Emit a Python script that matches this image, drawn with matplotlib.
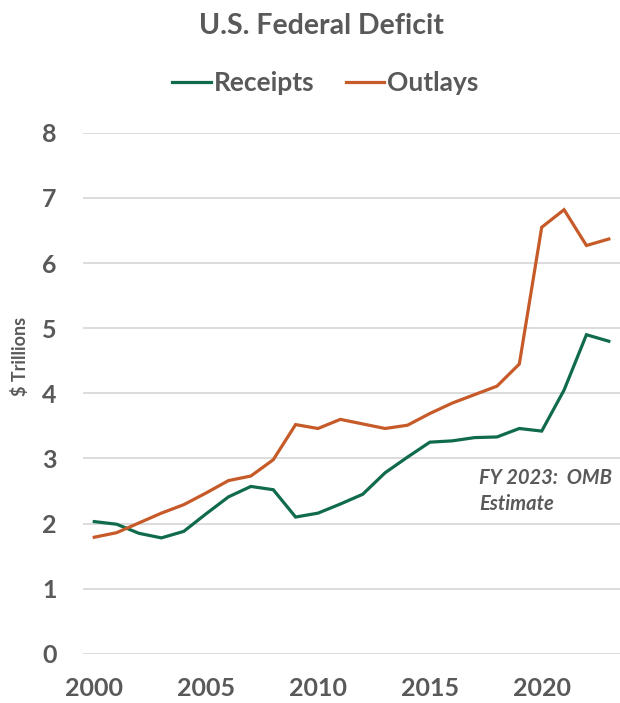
import matplotlib.pyplot as plt

# federal receipts and outlays, $ trillions (2023 = OMB estimate)
years = list(range(2000, 2024))
receipts = [2.03, 1.99, 1.85, 1.78, 1.88, 2.15, 2.41, 2.57, 2.52, 2.10,
            2.16, 2.30, 2.45, 2.78, 3.02, 3.25, 3.27, 3.32, 3.33, 3.46,
            3.42, 4.05, 4.90, 4.80]
outlays = [1.79, 1.86, 2.01, 2.16, 2.29, 2.47, 2.66, 2.73, 2.98, 3.52,
           3.46, 3.60, 3.53, 3.46, 3.51, 3.69, 3.85, 3.98, 4.11, 4.45,
           6.55, 6.82, 6.27, 6.37]
xticks = [2000, 2005, 2010, 2015, 2020]
yticks = [0, 1, 2, 3, 4, 5, 6, 7, 8]

green = '#0f6b4b'
orange = '#c65a28'
grey = '#595959'

plt.rcParams['font.family'] = ['Lato', 'DejaVu Sans']

fig = plt.figure(figsize=(6.2, 7.03), dpi=100)
ax = fig.add_axes([0.134, 0.070, 0.866, 0.741])

ax.plot(years, receipts, color=green, lw=2.3, label='Receipts', solid_joinstyle='miter')
ax.plot(years, outlays, color=orange, lw=2.3, label='Outlays', solid_joinstyle='miter')

ax.set_xlim(1999.5, 2023.5)
ax.set_ylim(0, 8)
ax.set_xticks(xticks)
ax.set_yticks(yticks)
ax.grid(axis='y', color='#d9d9d9', lw=1.3)
ax.set_axisbelow(True)
for s in ax.spines.values():
    s.set_visible(False)
ax.tick_params(length=0, labelcolor=grey, labelsize=18)
ax.tick_params(axis='y', pad=19)
ax.tick_params(axis='x', pad=17)
for lbl in ax.get_xticklabels() + ax.get_yticklabels():
    lbl.set_fontweight('bold')

ax.set_ylabel('$ Trillions', color=grey, fontsize=13, fontweight='bold')
ax.yaxis.set_label_coords(-0.1, 0.57)

ax.text(2017.2, 2.50, 'FY 2023:  OMB\nEstimate', color=grey, fontsize=14.5,
        style='italic', fontweight='bold', ha='left', va='center', linespacing=1.4)

fig.text(0.518, 0.963, 'U.S. Federal Deficit', color=grey, fontsize=20.5,
         fontweight='bold', ha='center', va='center')
fig.legend(loc='center', bbox_to_anchor=(0.525, 0.882), ncol=2, frameon=False,
           labelcolor=grey, handlelength=1.45, handletextpad=0.12,
           columnspacing=1.2, prop={'weight': 'bold', 'size': 19})

fig.savefig('out.png', dpi=100)
